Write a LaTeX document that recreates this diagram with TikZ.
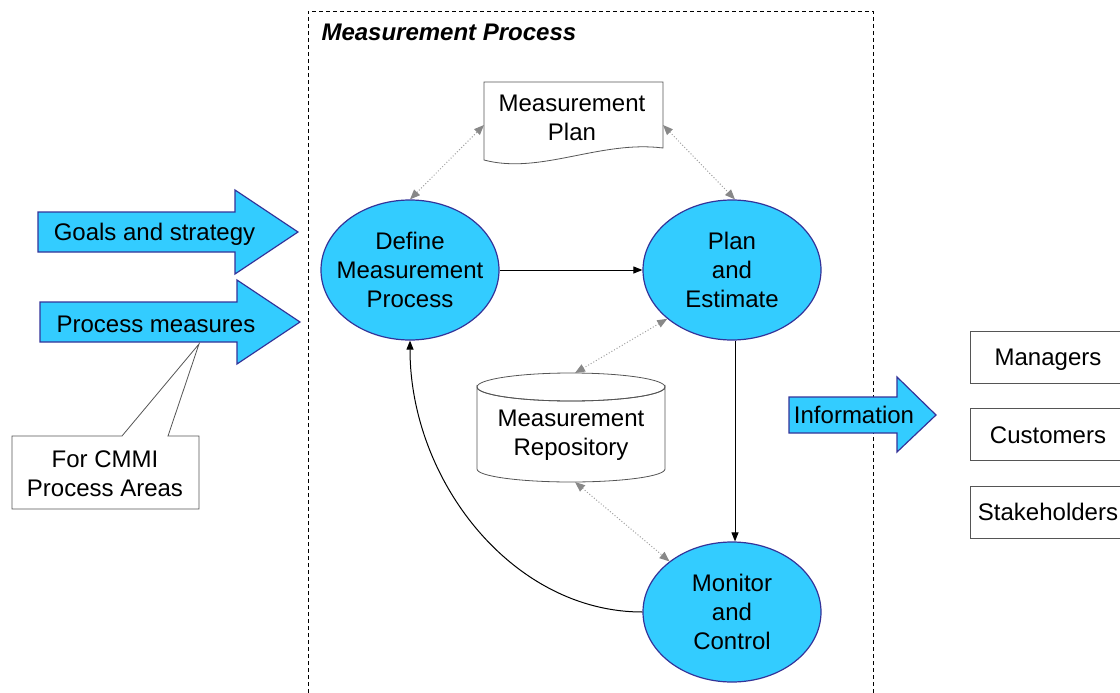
\documentclass[tikz,border=0pt]{standalone}
\usepackage{fontspec}
\setmainfont{Liberation Sans}
\usetikzlibrary{arrows.meta,shapes.geometric}
\definecolor{procfill}{HTML}{33CCFF}
\definecolor{procline}{HTML}{333399}
\definecolor{linkgray}{HTML}{A0A0A0}
\definecolor{tipgray}{HTML}{888888}
\definecolor{boxline}{HTML}{555555}
\tikzset{
  big/.style={font=\fontsize{24pt}{29pt}\selectfont, align=center, text=black},
  process/.style={big, ellipse, draw=procline, fill=procfill, line width=1.2pt,
    minimum width=178pt, minimum height=140pt, inner xsep=-20pt, inner ysep=0pt},
  blockarrow/.style={draw=procline, fill=procfill, line width=1.2pt, line join=miter},
  flow/.style={draw=black, line width=1pt, -{Triangle[length=9pt,width=7pt]}},
  datalink/.style={draw=linkgray, dotted, line width=1pt,
    {Triangle[length=10pt,width=8pt,color=tipgray]}-{Triangle[length=10pt,width=8pt,color=tipgray]}},
  plainbox/.style={big, draw=boxline, fill=white, line width=0.8pt,
    minimum width=156pt, minimum height=52pt, inner sep=0pt,
    text height=17.2pt, text depth=0pt},
  slot/.style={inner sep=0pt, outer sep=0pt}
}
\begin{document}
\begin{tikzpicture}[x=1pt,y=-1pt]
\useasboundingbox (0,0) rectangle (1120,693);

% process boundary
\draw[black, line width=0.8pt, dash pattern=on 4pt off 3pt]
  (308,693) -- (308,11) -- (873,11) -- (873,693);
\node[big, anchor=west, font=\fontsize{24pt}{29pt}\selectfont\bfseries\itshape] (title) at (318,32) {Measurement Process};

% measurement plan document
\draw[draw=boxline, fill=white, line width=0.8pt]
  (484,82) -- (663,82) -- (663,148) .. controls (600,140) and (540,175) .. (484,160) -- cycle;
\node[slot, minimum width=179pt, minimum height=78pt] (plan) at (573.5,121) {};
\node[big] (plantext) at (572,118) {Measurement\\Plan};

% measurement repository cylinder
\draw[draw=boxline, fill=white, line width=0.8pt]
  (477,387) -- (477,469) arc[start angle=180, end angle=360, x radius=94pt, y radius=13pt]
  -- (665,387) arc[start angle=0, end angle=-180, x radius=94pt, y radius=14pt] -- cycle;
\draw[draw=boxline, line width=0.8pt] (571,387) ellipse[x radius=94pt, y radius=14pt];
\node[slot, minimum width=188pt, minimum height=109pt] (repo) at (571,427.5) {};
\node[big] (repotext) at (571,435) {Measurement\\Repository};

% process steps
\node[process] (define) at (410,270) {Define\\Measurement\\Process};
\node[process] (estimate) at (732,270) {Plan\\and\\Estimate};
\node[process] (monitor) at (732,612) {Monitor\\and\\Control};

% control flow
\draw[flow] (define.east) -- (estimate.west);
\draw[flow] ([xshift=3pt]estimate.south) -- ([xshift=3pt]monitor.north);
\draw[flow] (monitor.west) .. controls +(-130,0) and +(0,140) .. (define.south);

% data links
\draw[datalink] (define.north) -- ([yshift=-4pt]plan.west);
\draw[datalink] ([yshift=-4pt]plan.east) -- ([xshift=3pt]estimate.north);
\draw[datalink] (estimate.217) -- ([xshift=4pt]repo.north);
\draw[datalink] ([xshift=4pt]repo.south) -- (monitor.141);

% inputs
\draw[blockarrow] (38,212) -- (235,212) -- (235,190) -- (298,232) -- (235,274) -- (235,252) -- (38,252) -- cycle;
\node[big] (goals) at (154.5,234) {Goals and strategy};
\draw[blockarrow] (40,302) -- (237,302) -- (237,280) -- (300,322) -- (237,364) -- (237,342) -- (40,342) -- cycle;
\node[big] (measures) at (156,324) {Process measures};

% callout on process measures
\draw[draw=boxline, fill=white, line width=0.8pt]
  (12,436) -- (122,436) -- (199,344) -- (168,436) -- (199,436) -- (199,509) -- (12,509) -- cycle;
\node[big] (cmmi) at (105,474) {For CMMI\\Process Areas};

% output
\draw[blockarrow] (789,397) -- (897,397) -- (897,377) -- (936,415) -- (897,452) -- (897,433) -- (789,433) -- cycle;
\node[big] (info) at (854,415) {Information};

% audiences
\node[plainbox] (managers) at (1048,357) {Managers};
\node[plainbox] (customers) at (1048,434.5) {Customers};
\node[plainbox] (stakeholders) at (1048,512) {Stakeholders};
\end{tikzpicture}
\end{document}
